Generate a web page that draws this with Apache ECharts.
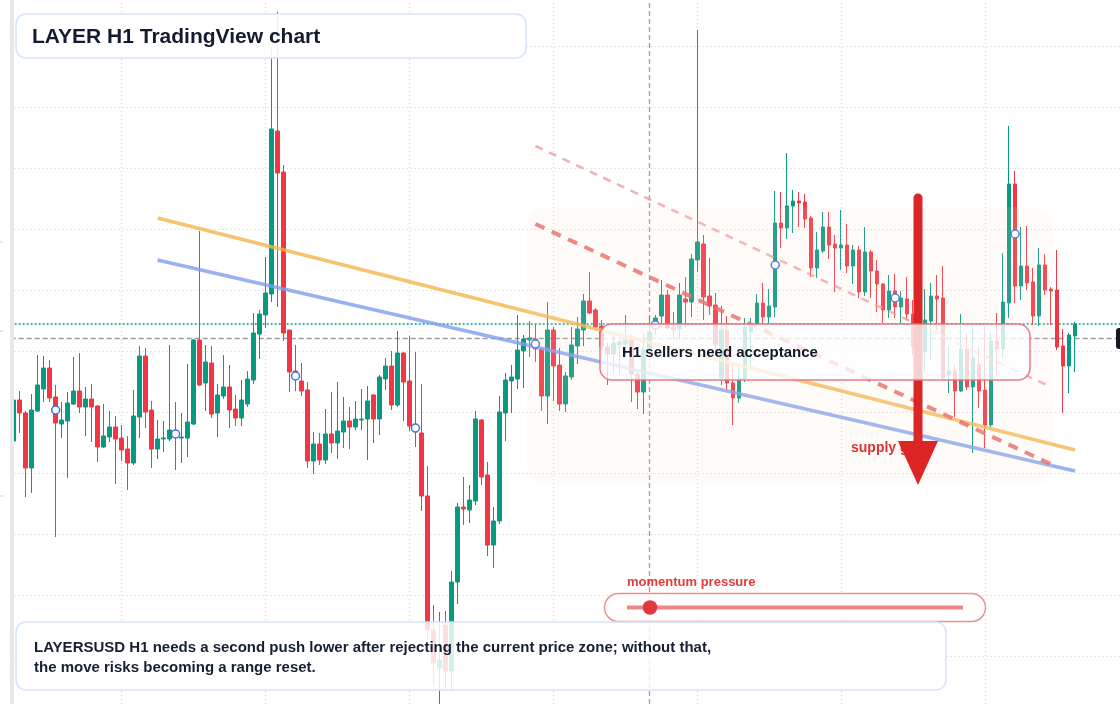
<!DOCTYPE html>
<html lang="en">
<head>
	<meta http-equiv="Content-Type" content="text/html" charset="utf-8" />
	<title>LAYER H1 TradingView chart</title>
	<style type="text/css">
		html,body{margin:0;padding:0;background:#fff;}
		#chart{width:1120px;height:704px;}
	</style>
</head>
<body>
<div id="chart"></div>
<script src="https://cdn.jsdelivr.net/npm/echarts@6/dist/echarts.min.js"></script>
<script>
// candles, H1: [open, close, low, high]
var candles = [
	[0.2059,0.2100,0.2056,0.2104],[0.2100,0.2087,0.2067,0.2109],[0.2087,0.2032,0.2003,0.2089],[0.2032,0.2090,0.2007,0.2106],
	[0.2089,0.2115,0.2088,0.2145],[0.2111,0.2132,0.2098,0.2144],[0.2132,0.2102,0.2098,0.2140],[0.2103,0.2077,0.1963,0.2115],
	[0.2076,0.2080,0.2062,0.2098],[0.2079,0.2097,0.2022,0.2108],[0.2096,0.2109,0.2095,0.2143],[0.2109,0.2093,0.2087,0.2147],
	[0.2093,0.2101,0.2064,0.2113],[0.2101,0.2093,0.2058,0.2116],[0.2094,0.2053,0.2038,0.2095],[0.2053,0.2064,0.2052,0.2096],
	[0.2063,0.2073,0.2058,0.2089],[0.2073,0.2061,0.2016,0.2084],[0.2062,0.2050,0.2039,0.2075],[0.2051,0.2037,0.2010,0.2064],
	[0.2037,0.2084,0.2035,0.2110],[0.2083,0.2144,0.2062,0.2154],[0.2144,0.2088,0.2072,0.2152],[0.2090,0.2051,0.2032,0.2099],
	[0.2051,0.2061,0.2041,0.2080],[0.2061,0.2062,0.2048,0.2079],[0.2061,0.2070,0.2059,0.2155],[0.2069,0.2064,0.2030,0.2098],
	[0.2062,0.2063,0.2037,0.2087],[0.2062,0.2078,0.2043,0.2136],[0.2076,0.2160,0.2075,0.2161],[0.2160,0.2115,0.2114,0.2269],
	[0.2117,0.2138,0.2089,0.2155],[0.2137,0.2086,0.2082,0.2154],[0.2087,0.2105,0.2063,0.2116],[0.2104,0.2113,0.2101,0.2145],
	[0.2113,0.2090,0.2072,0.2135],[0.2091,0.2082,0.2074,0.2105],[0.2082,0.2100,0.2074,0.2120],[0.2096,0.2121,0.2093,0.2129],
	[0.2120,0.2167,0.2116,0.2187],[0.2166,0.2186,0.2141,0.2190],[0.2185,0.2207,0.2172,0.2243],[0.2206,0.2371,0.2198,0.2452],
	[0.2369,0.2327,0.2193,0.2488],[0.2328,0.2167,0.2159,0.2335],[0.2170,0.2128,0.2108,0.2170],[0.2129,0.2121,0.2109,0.2155],
	[0.2119,0.2109,0.2104,0.2137],[0.2110,0.2039,0.2032,0.2118],[0.2039,0.2056,0.2026,0.2068],[0.2056,0.2040,0.2035,0.2067],
	[0.2040,0.2066,0.2036,0.2091],[0.2066,0.2057,0.2047,0.2108],[0.2057,0.2069,0.2041,0.2118],[0.2068,0.2079,0.2052,0.2103],
	[0.2079,0.2073,0.2051,0.2093],[0.2073,0.2081,0.2070,0.2099],[0.2080,0.2081,0.2070,0.2111],[0.2081,0.2099,0.2040,0.2114],
	[0.2105,0.2081,0.2057,0.2106],[0.2081,0.2123,0.2065,0.2125],[0.2121,0.2134,0.2110,0.2142],[0.2134,0.2095,0.2090,0.2149],
	[0.2095,0.2147,0.2093,0.2169],[0.2147,0.2118,0.2079,0.2148],[0.2119,0.2074,0.2069,0.2164],[0.2074,0.2068,0.2053,0.2148],
	[0.2067,0.2004,0.1989,0.2116],[0.2004,0.1870,0.1860,0.2034],[0.1870,0.1837,0.1815,0.1895],[0.1832,0.1840,0.1788,0.1888],
	[0.1875,0.1829,0.1810,0.1889],[0.1829,0.1918,0.1810,0.1929],[0.1918,0.1993,0.1896,0.1997],[0.1993,0.1991,0.1975,0.2023],
	[0.1990,0.2000,0.1977,0.2015],[0.1999,0.2081,0.1995,0.2089],[0.2080,0.2023,0.2015,0.2081],[0.2025,0.1955,0.1944,0.2038],
	[0.1955,0.1979,0.1932,0.1993],[0.1979,0.2088,0.1976,0.2104],[0.2087,0.2120,0.2059,0.2127],[0.2119,0.2123,0.2087,0.2135],
	[0.2121,0.2150,0.2111,0.2185],[0.2149,0.2161,0.2112,0.2165],[0.2160,0.2162,0.2143,0.2179],[0.2161,0.2151,0.2138,0.2176],
	[0.2151,0.2104,0.2089,0.2153],[0.2104,0.2170,0.2076,0.2198],[0.2170,0.2134,0.2099,0.2173],[0.2135,0.2096,0.2089,0.2152],
	[0.2096,0.2124,0.2088,0.2128],[0.2123,0.2155,0.2120,0.2173],[0.2154,0.2171,0.2136,0.2183],[0.2170,0.2199,0.2154,0.2206],
	[0.2199,0.2187,0.2186,0.2228],[0.2190,0.2173,0.2172,0.2192],[0.2174,0.2153,0.2150,0.2180],[0.2153,0.2146,0.2115,0.2157],
	[0.2146,0.2157,0.2126,0.2165],[0.2155,0.2158,0.2126,0.2160],[0.2156,0.2160,0.2145,0.2185],[0.2160,0.2126,0.2098,0.2165],
	[0.2126,0.2108,0.2091,0.2128],[0.2108,0.2151,0.2086,0.2167],[0.2151,0.2168,0.2140,0.2184],[0.2178,0.2182,0.2165,0.2185],
	[0.2184,0.2205,0.2173,0.2220],[0.2205,0.2172,0.2171,0.2210],[0.2173,0.2170,0.2160,0.2188],[0.2171,0.2205,0.2161,0.2217],
	[0.2201,0.2198,0.2172,0.2223],[0.2198,0.2241,0.2183,0.2246],[0.2240,0.2258,0.2228,0.2470],[0.2256,0.2203,0.2180,0.2265],
	[0.2204,0.2194,0.2185,0.2242],[0.2195,0.2155,0.2145,0.2207],[0.2122,0.2170,0.2115,0.2194],[0.2170,0.2117,0.2110,0.2184],
	[0.2117,0.2102,0.2075,0.2135],[0.2102,0.2121,0.2097,0.2135],[0.2121,0.2173,0.2118,0.2182],[0.2168,0.2173,0.2132,0.2182],
	[0.2176,0.2197,0.2174,0.2206],[0.2197,0.2183,0.2176,0.2217],[0.2183,0.2194,0.2176,0.2211],[0.2193,0.2277,0.2183,0.2309],
	[0.2277,0.2272,0.2252,0.2308],[0.2272,0.2294,0.2261,0.2347],[0.2294,0.2299,0.2267,0.2310],[0.2299,0.2297,0.2273,0.2308],
	[0.2298,0.2281,0.2272,0.2306],[0.2282,0.2232,0.2223,0.2284],[0.2232,0.2250,0.2222,0.2268],[0.2249,0.2273,0.2247,0.2288],
	[0.2273,0.2255,0.2241,0.2288],[0.2256,0.2252,0.2208,0.2265],[0.2252,0.2255,0.2230,0.2290],[0.2255,0.2234,0.2227,0.2276],
	[0.2234,0.2250,0.2216,0.2255],[0.2250,0.2208,0.2202,0.2254],[0.2208,0.2248,0.2204,0.2273],[0.2248,0.2229,0.2202,0.2250],
	[0.2229,0.2216,0.2188,0.2240],[0.2216,0.2190,0.2177,0.2217],[0.2190,0.2209,0.2182,0.2225],[0.2209,0.2193,0.2182,0.2226],
	[0.2193,0.2202,0.2175,0.2209],[0.2201,0.2186,0.2180,0.2223],[0.2186,0.2153,0.2145,0.2200],[0.2153,0.2148,0.2110,0.2170],
	[0.2148,0.2180,0.2128,0.2211],[0.2179,0.2204,0.2140,0.2217],[0.2204,0.2201,0.2170,0.2225],[0.2202,0.2122,0.2120,0.2234],
	[0.2125,0.2129,0.2107,0.2154],[0.2129,0.2109,0.2083,0.2135],[0.2109,0.2151,0.2108,0.2186],[0.2151,0.2113,0.2110,0.2167],
	[0.2113,0.2142,0.2047,0.2173],[0.2136,0.2109,0.2092,0.2153],[0.2110,0.2075,0.2052,0.2173],[0.2075,0.2159,0.2073,0.2169],
	[0.2159,0.2151,0.2125,0.2187],[0.2151,0.2198,0.2142,0.2247],[0.2197,0.2316,0.2182,0.2374],[0.2316,0.2214,0.2197,0.2329],
	[0.2214,0.2234,0.2200,0.2273],[0.2234,0.2217,0.2210,0.2274],[0.2218,0.2184,0.2175,0.2232],[0.2184,0.2235,0.2174,0.2252],
	[0.2235,0.2210,0.2205,0.2246],[0.2211,0.2209,0.2175,0.2213],[0.2210,0.2153,0.2150,0.2250],[0.2154,0.2134,0.2087,0.2171],
	[0.2134,0.2165,0.2107,0.2167],[0.2164,0.2176,0.2128,0.2178]
];
var emptySlots = 7;          // free space right of the last bar
var gridPrices = [0.2454,0.2393,0.2332,0.2271,0.2210,0.2149,0.2088,0.2027,0.1966,0.1905,0.1844];
var gridCols = [18,42,66,90,114,138,162];
var markerPts = [[7,0.2090],[27,0.2066],[47,0.2124],[67,0.2072],[87,0.2156],[107,0.2175],[127,0.2235],[147,0.2202],[167,0.2266]];
var orangeLine = [[24,0.2282],[177,0.2050]];
var blueLine = [[24,0.2240],[177,0.2029]];
var redDash = [[87,0.2276],[174,0.2033]];
var redDashLight = [[87,0.2354],[173,0.2113]];
var lastPrice = 0.2176;
var crossPrice = 0.2162;
var crossCol = 106;

// hourly category labels
var times = [];
var t0 = Date.UTC(2025, 2, 3, 0);
for (var i = 0; i < candles.length + emptySlots; i++) {
	var d = new Date(t0 + i * 3600000);
	times.push((d.getUTCMonth() + 1) + '/' + d.getUTCDate() + ' ' + d.getUTCHours() + ':00');
}

var FONT = '"Liberation Sans", Arial, sans-serif';
var myChart = echarts.init(document.getElementById('chart'));

function trend(data, color, width, type, z) {
	return {
		type: 'line', data: data, symbol: 'none', silent: true, z: z,
		lineStyle: {color: color, width: width, type: type}
	};
}

myChart.setOption({
	animation: false,
	backgroundColor: '#ffffff',
	grid: {left: 10.7, top: 0, width: 1110, height: 704},
	xAxis: {type: 'category', data: times, boundaryGap: true, show: false},
	yAxis: {type: 'value', min: 0.1796, max: 0.2500, show: false, splitLine: {show: false}},
	series: [
		{
			// dotted grid
			type: 'line', data: [], z: 1, silent: true,
			markLine: {
				silent: true, z: 1, precision: 6, symbol: ['none', 'none'], label: {show: false},
				lineStyle: {color: '#cdd0d5', width: 1, type: [1, 3]},
				data: gridPrices.map(function (p) { return {yAxis: p}; })
					.concat(gridCols.map(function (c) { return {xAxis: times[c]}; }))
			}
		},
		{
			// last price + crosshair
			type: 'line', data: [], z: 1, silent: true,
			markLine: {
				silent: true, z: 1, precision: 6, symbol: ['none', 'none'], label: {show: false},
				data: [
					{yAxis: lastPrice, lineStyle: {color: '#089981', width: 1.5, type: [2, 2]}},
					{yAxis: crossPrice, lineStyle: {color: '#9b9b9b', width: 1.3, type: [5, 3]}},
					{xAxis: times[crossCol], lineStyle: {color: '#9b9b9b', width: 1.3, type: [5, 3]}}
				]
			}
		},
		{
			type: 'candlestick', data: candles, z: 2, barWidth: 4,
			itemStyle: {
				color: '#089981', color0: '#f23645',
				borderColor: '#089981', borderColor0: '#f23645', borderWidth: 1
			}
		},
		trend(orangeLine, 'rgba(246,180,74,0.8)', 3.5, 'solid', 3),
		trend(blueLine, 'rgba(125,158,240,0.8)', 3.5, 'solid', 3),
		trend(redDash, 'rgba(232,102,102,0.85)', 4, [10, 8], 3),
		trend(redDashLight, 'rgba(240,150,150,0.75)', 2.5, [8, 7], 3),
		{
			type: 'scatter', data: markerPts, symbol: 'circle', symbolSize: 8, z: 4, silent: true,
			itemStyle: {color: '#ffffff', borderColor: '#3f6fe4', borderWidth: 1.5, opacity: 1}
		}
	],
	graphic: [
		{type: 'rect', z: 10, shape: {x: 527, y: 207, width: 526, height: 277, r: 18},
			style: {fill: 'rgba(245,222,210,0.13)'}},
		{type: 'text', z: 11, x: 851, y: 448,
			style: {text: 'supply gate', fill: '#e03131', font: 'bold 14px ' + FONT, textVerticalAlign: 'middle'}},
		{type: 'line', z: 12, shape: {x1: 918, y1: 198, x2: 918, y2: 445},
			style: {stroke: '#dc2626', lineWidth: 9, lineCap: 'round'}},
		{type: 'polygon', z: 12, shape: {points: [[898, 441], [938, 441], [918, 485]]},
			style: {fill: '#dc2626'}},
		// H1 sellers box
		{type: 'rect', z: 13, shape: {x: 600, y: 324, width: 430, height: 56, r: 12},
			style: {fill: 'rgba(255,255,255,0.78)', stroke: 'rgba(230,110,120,0.9)', lineWidth: 1.5}},
		{type: 'text', z: 14, x: 622, y: 353,
			style: {text: 'H1 sellers need acceptance', fill: '#111827', font: 'bold 15px ' + FONT, textVerticalAlign: 'middle'}},
		// momentum slider
		{type: 'text', z: 14, x: 627, y: 582,
			style: {text: 'momentum pressure', fill: '#e03c3c', font: 'bold 13px ' + FONT, textVerticalAlign: 'middle'}},
		{type: 'rect', z: 13, shape: {x: 604.5, y: 593.5, width: 381, height: 28, r: 14},
			style: {fill: 'rgba(255,255,255,0.85)', stroke: '#ef9090', lineWidth: 1.5}},
		{type: 'line', z: 14, shape: {x1: 627, y1: 607.5, x2: 963, y2: 607.5},
			style: {stroke: '#ef8686', lineWidth: 4}},
		{type: 'circle', z: 15, shape: {cx: 650, cy: 607.5, r: 7.3}, style: {fill: '#e03a3e'}},
		// bottom note
		{type: 'rect', z: 16, shape: {x: 16, y: 622, width: 930, height: 68, r: 10},
			style: {fill: 'rgba(255,255,255,0.84)', stroke: '#d6e3fa', lineWidth: 1.5}},
		{type: 'text', z: 17, x: 34, y: 648,
			style: {text: 'LAYERSUSD H1 needs a second push lower after rejecting the current price zone; without that,',
				fill: '#172033', font: 'bold 15px ' + FONT, textVerticalAlign: 'middle'}},
		{type: 'text', z: 17, x: 34, y: 668,
			style: {text: 'the move risks becoming a range reset.', fill: '#172033', font: 'bold 15px ' + FONT, textVerticalAlign: 'middle'}},
		// title
		{type: 'rect', z: 16, shape: {x: 16, y: 14, width: 510, height: 44, r: 10},
			style: {fill: 'rgba(255,255,255,0.9)', stroke: '#d6e3fa', lineWidth: 1.5}},
		{type: 'text', z: 17, x: 32, y: 37,
			style: {text: 'LAYER H1 TradingView chart', fill: '#131b2e', font: 'bold 21px ' + FONT, textVerticalAlign: 'middle'}},
		// frame bits
		{type: 'rect', z: 20, shape: {x: 10, y: 0, width: 4, height: 704}, style: {fill: '#e8e8e8'}},
		{type: 'rect', z: 20, shape: {x: 1116, y: 328, width: 20, height: 21, r: 3}, style: {fill: '#131722'}},
		{type: 'line', z: 20, shape: {x1: 0, y1: 242, x2: 3, y2: 242}, style: {stroke: '#d0d0d0', lineWidth: 1}},
		{type: 'line', z: 20, shape: {x1: 0, y1: 331, x2: 3, y2: 331}, style: {stroke: '#d0d0d0', lineWidth: 1}},
		{type: 'line', z: 20, shape: {x1: 0, y1: 496, x2: 3, y2: 496}, style: {stroke: '#d0d0d0', lineWidth: 1}}
	]
});
</script>
</body>
</html>
